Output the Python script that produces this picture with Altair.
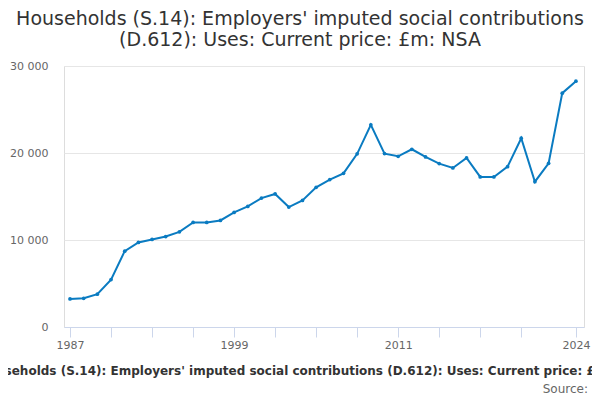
import altair as alt
import pandas as pd

years = list(range(1987, 2025))
values = [3230, 3300, 3770, 5450, 8720, 9720, 10060, 10400, 10940, 12020,
          12020, 12250, 13170, 13860, 14820, 15290, 13790, 14550, 16050, 16940,
          17660, 19900, 23240, 19930, 19620, 20430, 19550, 18780, 18280, 19430,
          17250, 17250, 18430, 21700, 16700, 18810, 26880, 28260]
tick_years = list(range(1987, 2021, 3)) + [2024]
label_years = [1987, 1999, 2011, 2024]
title_lines = ["Households (S.14): Employers' imputed social contributions",
               "(D.612): Uses: Current price: £m: NSA"]
footer_text = "Households (S.14): Employers' imputed social contributions (D.612): Uses: Current price: £m: NSA"
source_text = "Source:"

df = pd.DataFrame({"year": years, "value": values})

FONT = "DejaVu Sans"
LINE = "#0a7bc1"

x = alt.X("year:Q",
          scale=alt.Scale(domain=[1986.56, 2024.59], nice=False, zero=False),
          axis=alt.Axis(values=tick_years, title=None, grid=False,
                        labelExpr="indexof([1987,1999,2011,2024], datum.value) >= 0 ? datum.value : ''",
                        domainColor="#ccd6eb", tickColor="#ccd6eb", tickSize=10,
                        labelColor="#666666", labelFontSize=11, labelFont=FONT,
                        labelPadding=2, labelFlush=False))
y = alt.Y("value:Q",
          scale=alt.Scale(domain=[0, 30000], nice=False),
          axis=alt.Axis(values=[0, 10000, 20000, 30000], title=None,
                        format=",d", labelExpr="replace(datum.label, ',', ' ')",
                        domain=False, ticks=False, gridColor="#e6e6e6",
                        labelColor="#666666", labelFontSize=11, labelFont=FONT,
                        labelPadding=16))

line = alt.Chart(df).mark_line(color=LINE, strokeWidth=2).encode(x=x, y=y)
pts = alt.Chart(df).mark_point(filled=True, color=LINE, size=14, opacity=1).encode(x=x, y=y)

footer = alt.Chart(pd.DataFrame({"t": [footer_text]})).mark_text(
    font=FONT, fontSize=12, fontWeight="bold", color="#333333", align="center", baseline="middle"
).encode(text="t:N", x=alt.value(247), y=alt.value(305))

source = alt.Chart(pd.DataFrame({"t": [source_text]})).mark_text(
    font=FONT, fontSize=12, color="#666666", align="right", baseline="middle"
).encode(text="t:N", x=alt.value(524), y=alt.value(323))

chart = alt.layer(line, pts, footer, source).properties(
    width=520, height=261,
    autosize=alt.AutoSizeParams(type="none"),
    padding={"left": 56, "top": 58, "right": 8, "bottom": 70},
    title=alt.TitleParams(text=title_lines, font=FONT, fontSize=19, fontWeight="normal",
                          color="#333333", anchor="middle", dx=-24, offset=10, lineHeight=21),
).configure_view(stroke=None).configure(background="white")

chart.save("out.html", embed_options={"renderer": "svg", "actions": False})
